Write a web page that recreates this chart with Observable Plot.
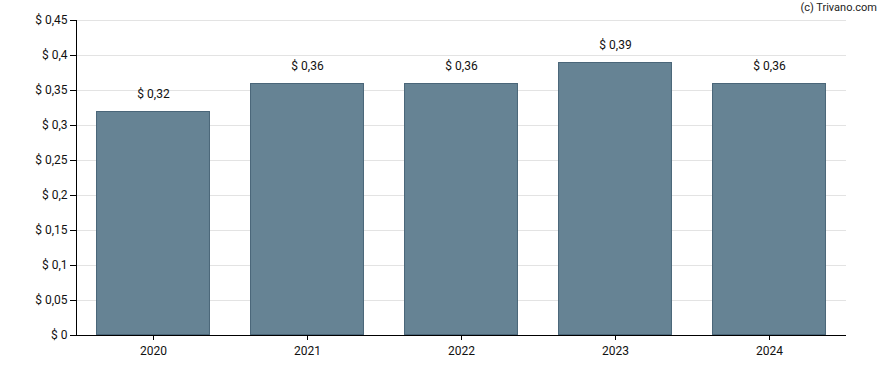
<!DOCTYPE html>
<html><head><meta charset="utf-8">
<script src="https://cdn.jsdelivr.net/npm/d3@7"></script>
<script src="https://cdn.jsdelivr.net/npm/@observablehq/plot@0.6"></script>
<style>
html,body{margin:0;padding:0;background:#fff;}
#wrap{position:relative;width:888px;height:370px;font-family:Roboto,Arial,sans-serif;}
#credit{position:absolute;right:11px;top:1px;font-size:11px;color:#222;}
</style></head>
<body><div id="wrap"><div id="credit">(c) Trivano.com</div></div>
<script>
const years = ["2020","2021","2022","2023","2024"];
const values = [0.32, 0.36, 0.36, 0.39, 0.36];
const yTicks = [0,0.05,0.1,0.15,0.2,0.25,0.3,0.35,0.4,0.45];

const data = years.map((y,i)=>({year:y, value:values[i]}));
const fmt = v => "$ " + String(+v.toFixed(2)).replace(".", ",");

const chart = Plot.plot({
  width: 888, height: 370,
  marginLeft: 76, marginRight: 42, marginTop: 20, marginBottom: 35,
  style: {fontFamily: "Roboto, Arial, sans-serif", fontSize: "12px", color: "#000", background: "#fff"},
  x: {domain: years, paddingInner: 0.26, paddingOuter: 0.13, label: null, round: false},
  y: {domain: [0, 0.45], label: null},
  marks: [
    Plot.gridY(yTicks, {stroke: "#e3e3e3", strokeOpacity: 1}),
    Plot.barY(data, {x: "year", y: "value", fill: "#668394", stroke: "#4a6679", strokeWidth: 1, inset: 0.5}),
    Plot.text(data, {x: "year", y: "value", text: d => fmt(d.value), dy: -17, fontSize: 12, fill: "#111"}),
    Plot.ruleY([0], {stroke: "#000"}),
    Plot.frame({anchor: "left", stroke: "#000"}),
    Plot.axisX({tickSize: 5, tickPadding: 6, label: null, fill: "#111"}),
    Plot.axisY({ticks: yTicks, tickFormat: fmt, tickSize: 6, tickPadding: 3, label: null, fill: "#111"})
  ]
});
document.getElementById("wrap").appendChild(chart);
</script>
</body></html>
